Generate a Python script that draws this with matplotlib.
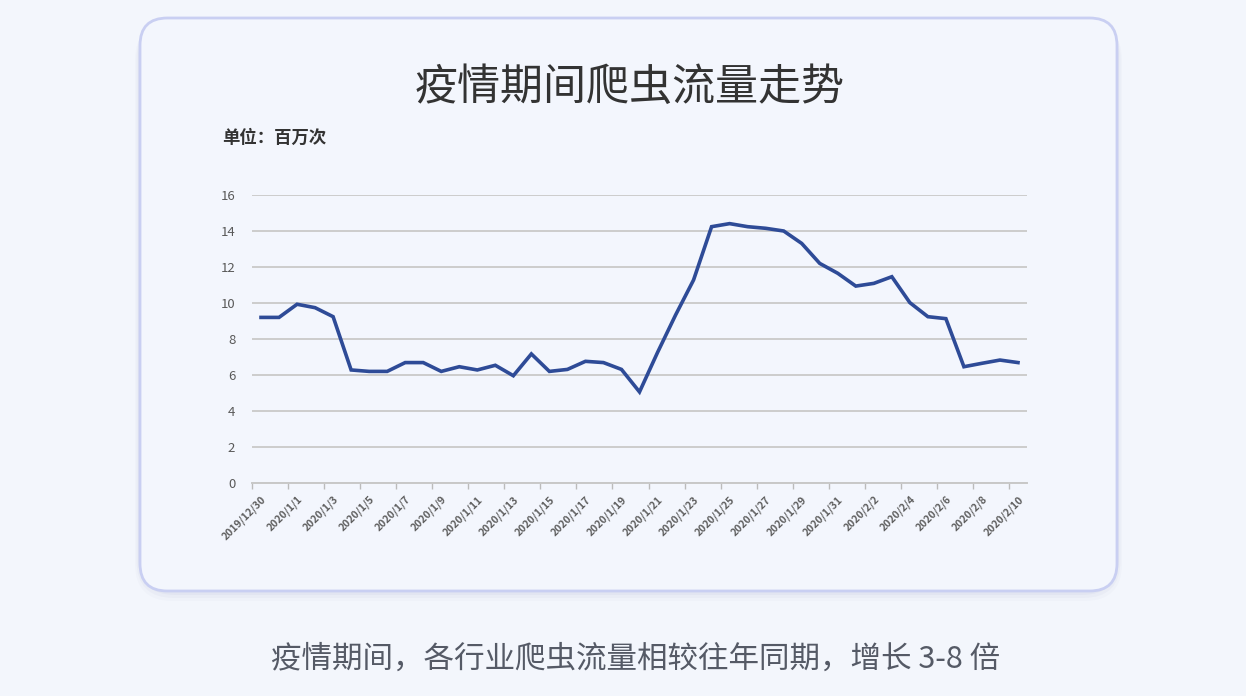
import matplotlib.pyplot as plt
from matplotlib.patches import FancyBboxPatch
from matplotlib.ticker import FixedLocator

plt.rcParams['font.family'] = ['Noto Sans CJK SC', 'DejaVu Sans']

# --- DATA ---
dates = [
    "2019/12/30", "2019/12/31",
    "2020/1/1", "2020/1/2", "2020/1/3", "2020/1/4", "2020/1/5", "2020/1/6",
    "2020/1/7", "2020/1/8", "2020/1/9", "2020/1/10", "2020/1/11", "2020/1/12",
    "2020/1/13", "2020/1/14", "2020/1/15", "2020/1/16", "2020/1/17", "2020/1/18",
    "2020/1/19", "2020/1/20", "2020/1/21", "2020/1/22", "2020/1/23", "2020/1/24",
    "2020/1/25", "2020/1/26", "2020/1/27", "2020/1/28", "2020/1/29", "2020/1/30",
    "2020/1/31", "2020/2/1", "2020/2/2", "2020/2/3", "2020/2/4", "2020/2/5",
    "2020/2/6", "2020/2/7", "2020/2/8", "2020/2/9", "2020/2/10",
]
traffic = [
    9.2, 9.2, 9.93, 9.74, 9.24, 6.28, 6.2, 6.2, 6.69, 6.69,
    6.2, 6.46, 6.28, 6.54, 5.96, 7.17, 6.2, 6.31, 6.76, 6.69,
    6.31, 5.06, 7.25, 9.33, 11.28, 14.24, 14.41, 14.24, 14.15, 14.0,
    13.31, 12.2, 11.65, 10.94, 11.09, 11.46, 10.02, 9.24, 9.13, 6.46,
    6.65, 6.83, 6.69,
]
y_ticks = [0, 2, 4, 6, 8, 10, 12, 14, 16]

title = "疫情期间爬虫流量走势"
unit_text = "单位：百万次"
caption = "疫情期间，各行业爬虫流量相较往年同期，增长 3-8 倍"

BG = "#f3f6fc"
CARD = "#f3f6fd"
LINE = "#2e4b97"
GRID = "#cccccc"

W, H = 1246, 696
fig = plt.figure(figsize=(W / 100, H / 100), dpi=100)
fig.patch.set_facecolor(BG)

# card shadow + card (kept below the axes)
for off, a in [(10, 0.025), (7, 0.035), (4, 0.045)]:
    sh = FancyBboxPatch(((140 - off / 2) / W, (H - 591 - off) / H),
                        (977 + off) / W, (573 + off / 2) / H,
                        boxstyle="round,pad=0,rounding_size=0.03",
                        transform=fig.transFigure, facecolor="#5060a0",
                        edgecolor="none", alpha=a, mutation_aspect=W / H,
                        zorder=-2)
    fig.add_artist(sh)
card = FancyBboxPatch((140 / W, (H - 591) / H), 977 / W, 573 / H,
                      boxstyle="round,pad=0,rounding_size=0.022",
                      transform=fig.transFigure, facecolor=CARD,
                      edgecolor="#c9cff2", linewidth=2, mutation_aspect=W / H,
                      zorder=-1)
fig.add_artist(card)

fig.text(630 / W, 1 - 88 / H, title, ha="center", va="center",
         fontsize=31, color="#333333")
fig.text(222 / W, 1 - 138 / H, unit_text, ha="left", va="center",
         fontsize=12.5, color="#333333", fontweight="bold")
fig.text(636 / W, 1 - 659 / H, caption, ha="center", va="center",
         fontsize=22, color="#555a66")

# --- PLOT ---
ax = fig.add_axes([252 / W, 1 - 483 / H, (1027 - 252) / W, (483 - 195) / H])
ax.set_zorder(2)
ax.set_facecolor("none")
x = list(range(len(dates)))
ax.plot(x, traffic, color=LINE, linewidth=2.6, solid_joinstyle="miter")

ax.set_xlim(-0.5, len(dates) - 0.5)
ax.set_ylim(0, 16)
ax.set_yticks(y_ticks)
ax.yaxis.grid(True, color=GRID, linewidth=1.4)
ax.set_axisbelow(True)

ax.set_xticks(x[::2])
ax.set_xticklabels(dates[::2], rotation=45, ha="right", rotation_mode="anchor",
                   fontsize=7.5, color="#5f5f5f", fontweight="bold")
ax.xaxis.set_minor_locator(FixedLocator([i - 0.5 for i in range(0, len(dates), 2)]))
ax.tick_params(axis="x", which="major", length=0, pad=8)
ax.tick_params(axis="x", which="minor", length=4, color="#bbbbbb", width=1)
ax.tick_params(axis="y", length=0, pad=12, labelsize=9.5, labelcolor="#595959")

for s in ["top", "right", "left"]:
    ax.spines[s].set_visible(False)
ax.spines["bottom"].set_color("#c8c8c8")
ax.spines["bottom"].set_linewidth(1.4)

fig.savefig("out.png", dpi=100, facecolor=BG)
